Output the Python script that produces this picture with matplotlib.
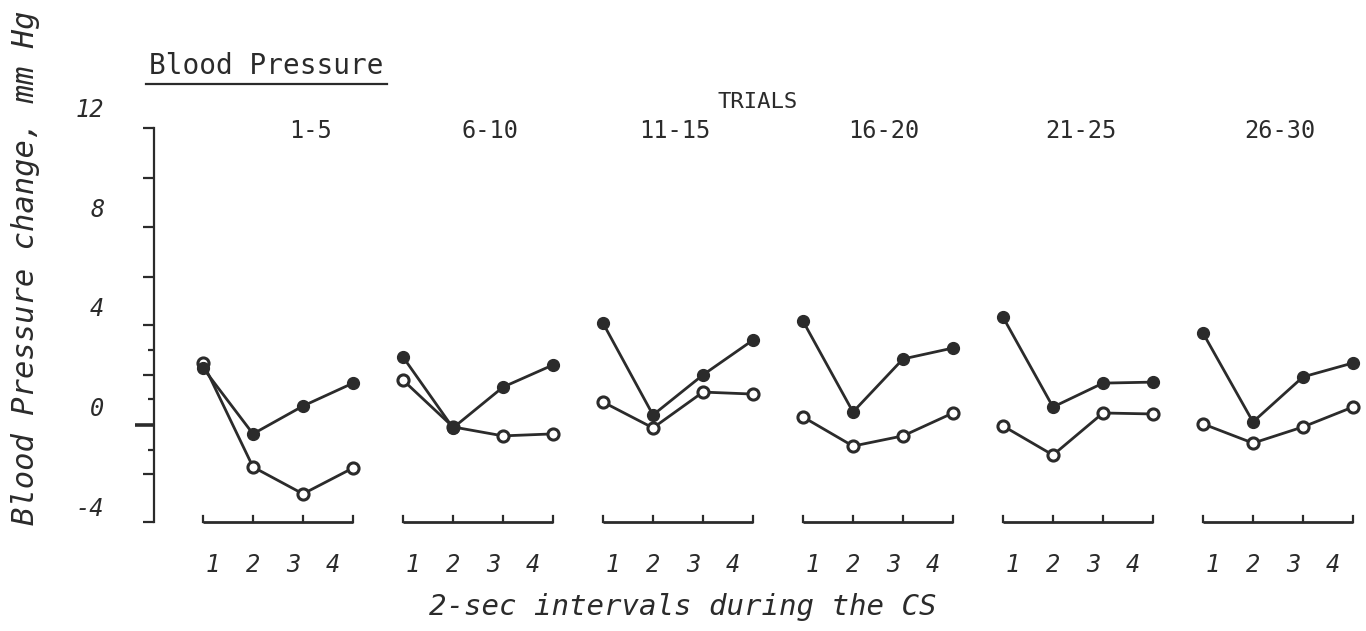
import matplotlib
matplotlib.use("Agg")
import matplotlib.pyplot as plt
import matplotlib.transforms as mtransforms
from matplotlib.lines import Line2D

# values (mm Hg)
trial_blocks = ["1-5", "6-10", "11-15", "16-20", "21-25", "26-30"]
intervals = [1, 2, 3, 4]
filled_values = [
    [1.65, -1.00, 0.12, 1.04],
    [2.09, -0.76, 0.88, 1.77],
    [3.45, -0.24, 1.37, 2.77],
    [3.53, -0.12, 2.01, 2.45],
    [3.69, 0.08, 1.04, 1.08],
    [3.05, -0.52, 1.29, 1.85],
]
open_values = [
    [1.85, -2.33, -3.41, -2.37],
    [1.16, -0.72, -1.08, -1.00],
    [0.28, -0.76, 0.68, 0.60],
    [-0.32, -1.49, -1.08, -0.16],
    [-0.68, -1.85, -0.16, -0.20],
    [-0.60, -1.37, -0.72, 0.08],
]
y_labels = ["12", "8", "4", "0", "-4"]
y_label_values = [12, 8, 4, 0, -4]

# typewritten axis: ticks don't line up with the labels
major_ticks = [11.29, 9.28, 7.31, 5.30, 3.37, 1.37, -2.61, -4.54]
minor_ticks = [2.37, 0.40, -1.65]
long_tick = -0.64
title_offsets = [2.14, 1.74, 1.44, 1.62, 1.56, 1.54]

INK = "#2b2b2b"
W, H = 1366, 631

fig = plt.figure(figsize=(W / 100, H / 100), dpi=100)
fig.patch.set_facecolor("white")
ax = fig.add_axes([154 / W, 1 - 522 / H, 1211 / W, 394 / H])
ax.set_xlim(0.02, 24.24)
ax.set_ylim(-4.54, 11.29)

for side in ["top", "right", "bottom"]:
    ax.spines[side].set_visible(False)
ax.spines["left"].set_linewidth(1.6)
ax.spines["left"].set_color(INK)

ax.set_xticks([])
ax.set_yticks(major_ticks)
ax.set_yticks(minor_ticks, minor=True)
ax.set_yticklabels([])
ax.tick_params(axis="y", which="major", length=8, width=1.6, color=INK)
ax.tick_params(axis="y", which="minor", length=4, width=1.6, color=INK)

ytrans = mtransforms.blended_transform_factory(ax.transAxes, ax.transData)
ax.plot([-0.016, 0], [long_tick, long_tick], color=INK, lw=2.6,
        transform=ytrans, clip_on=False, solid_capstyle="butt")

mono_it = dict(family="DejaVu Sans Mono", style="oblique", color=INK)
for lab, v in zip(y_labels, y_label_values):
    ax.text(-0.041, v, lab, transform=ytrans, ha="right", va="center",
            fontsize=17, **mono_it)

xfig = mtransforms.blended_transform_factory(ax.transData, fig.transFigure)
xax = mtransforms.blended_transform_factory(ax.transData, ax.transAxes)

for k, block in enumerate(trial_blocks):
    xs = [4 * k + i for i in intervals]
    ax.plot(xs, open_values[k], color=INK, lw=2.0, marker="o", ms=8,
            mfc="white", mec=INK, mew=2.2, zorder=3, clip_on=False)
    ax.plot(xs, filled_values[k], color=INK, lw=2.0, marker="o", ms=8.5,
            mfc=INK, mec=INK, zorder=4, clip_on=False)

    # little x axis under each block
    ax.plot([xs[0], xs[-1]], [0, 0], color=INK, lw=2.0, transform=xax,
            clip_on=False, solid_capstyle="butt")
    for x in xs:
        ax.plot([x, x], [0, 0.016], color=INK, lw=1.6, transform=xax,
                clip_on=False)
    for j, i in enumerate(intervals):
        ax.text(4 * k + 1.2 + 0.8 * j, 1 - 565 / H, str(i), transform=xfig,
                ha="center", va="center", fontsize=17, **mono_it)

    ax.text(4 * k + 1 + title_offsets[k], 1 - 131 / H, block, transform=xfig,
            ha="center", va="center", fontsize=17,
            family="DejaVu Sans Mono", color=INK)

ax.text(12.1, 1 - 102 / H, "TRIALS", transform=xfig, ha="center",
        va="center", fontsize=16, family="DejaVu Sans Mono", color=INK)

fig.text(266 / W, 1 - 66 / H, "Blood Pressure", ha="center", va="center",
         fontsize=20, family="DejaVu Sans Mono", color=INK)
fig.add_artist(Line2D([146 / W, 387 / W], [1 - 84 / H, 1 - 84 / H],
                      color=INK, lw=1.6))

fig.text(26 / W, 1 - 268 / H, "Blood Pressure change, mm Hg", rotation=90,
         ha="center", va="center", fontsize=22, **mono_it)
fig.text(683 / W, 1 - 607 / H, "2-sec intervals during the CS",
         ha="center", va="center", fontsize=21, **mono_it)

fig.savefig("out.png", dpi=100, facecolor="white")
